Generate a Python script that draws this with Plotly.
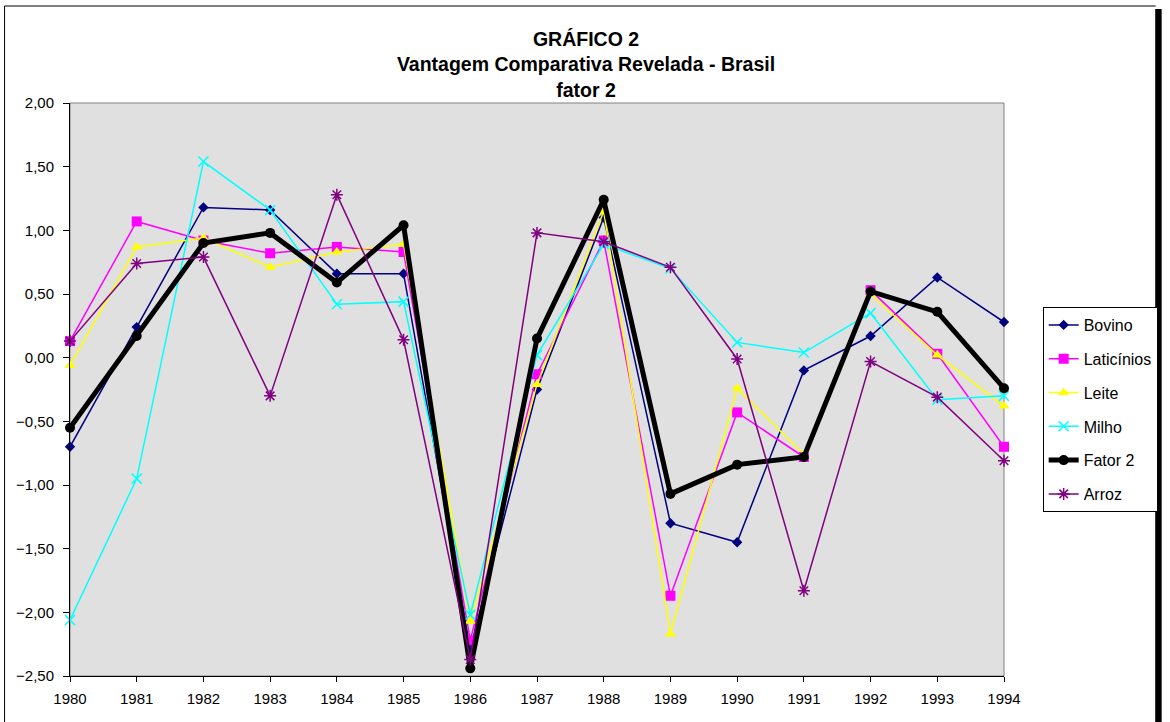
import plotly.graph_objects as go

years = list(range(1980, 1995))
bovino = [-0.70, 0.24, 1.18, 1.16, 0.66, 0.66, -2.29, -0.25, 1.10, -1.30, -1.45, -0.10, 0.17, 0.63, 0.28]
laticinios = [0.13, 1.07, 0.92, 0.82, 0.87, 0.83, -2.22, -0.13, 0.92, -1.87, -0.43, -0.78, 0.53, 0.03, -0.70]
leite = [-0.06, 0.87, 0.94, 0.71, 0.83, 0.89, -2.07, -0.21, 1.15, -2.17, -0.24, -0.76, 0.50, 0.02, -0.38]
milho = [-2.06, -0.95, 1.54, 1.16, 0.42, 0.44, -2.02, 0.02, 0.89, 0.70, 0.12, 0.04, 0.35, -0.33, -0.30]
fator2 = [-0.55, 0.17, 0.90, 0.98, 0.59, 1.04, -2.44, 0.15, 1.24, -1.07, -0.84, -0.78, 0.52, 0.36, -0.24]
arroz = [0.13, 0.74, 0.79, -0.30, 1.28, 0.14, -2.37, 0.98, 0.91, 0.71, -0.01, -1.83, -0.03, -0.31, -0.81]

series = [
    ("Bovino", bovino, "#000080", 1.5, "diamond", 8, None),
    ("Laticínios", laticinios, "#FF00FF", 1.5, "square", 10, None),
    ("Leite", leite, "#FFFF00", 1.5, "triangle-up", 10, None),
    ("Milho", milho, "#00FFFF", 1.5, "x-thin-open", 10, 1.5),
    ("Fator 2", fator2, "#000000", 5, "circle", 10, None),
    ("Arroz", arroz, "#800080", 1.5, "asterisk-open", 10, 1.5),
]

FONT = "Liberation Sans, Arial, sans-serif"

fig = go.Figure()
for name, vals, color, lw, sym, ms, mlw in series:
    marker = dict(symbol=sym, size=ms, color=color)
    if mlw:
        marker["line"] = dict(color=color, width=mlw)
    fig.add_trace(go.Scatter(
        x=years, y=vals, name=name, mode="lines+markers",
        line=dict(color=color, width=lw), marker=marker,
        cliponaxis=False, legendgroup=name,
    ))

W, H = 1170, 722
L, R, T, B = 70, 1012, 103, 676
pw, ph = R - L, B - T

def px(x):
    return (x - L) / pw

def py(y):
    return (B - y) / ph

shapes = [
    dict(type="rect", xref="paper", yref="paper", x0=0, y0=0, x1=1, y1=1,
         line=dict(color="#808080", width=1), layer="below"),
    dict(type="line", xref="paper", yref="paper", x0=px(4), x1=px(1165), y0=py(6), y1=py(6),
         line=dict(color="black", width=1)),
    dict(type="line", xref="paper", yref="paper", x0=px(4), x1=px(4), y0=py(6), y1=py(725),
         line=dict(color="black", width=1)),
    dict(type="rect", xref="paper", yref="paper", x0=px(1164.5), x1=px(1171), y0=py(9), y1=py(725),
         line=dict(width=0), fillcolor="black"),
]

fig.update_layout(
    width=W, height=H,
    margin=dict(l=L, r=W - R, t=T, b=H - B),
    paper_bgcolor="white", plot_bgcolor="#E0E0E0",
    separators=",.",
    font=dict(family=FONT, size=15, color="black"),
    title=dict(
        text="GRÁFICO 2<br>Vantagem Comparativa Revelada - Brasil<br>fator 2",
        x=586 / W, xanchor="center", y=1 - 46 / H, yanchor="top",
        font=dict(family=FONT, size=19.5, color="black", weight="bold"),
    ),
    xaxis=dict(
        range=[1980, 1994], tickmode="array", tickvals=years,
        ticktext=[str(y) for y in years],
        showgrid=False, zeroline=False, showline=True, linecolor="black", linewidth=1,
        ticks="outside", ticklen=5, tickcolor="black", ticklabelstandoff=4,
        tickfont=dict(family=FONT, size=15),
    ),
    yaxis=dict(
        range=[-2.5, 2.0], dtick=0.5, tick0=-2.5, tickformat=".2f",
        showgrid=False, zeroline=False, showline=True, linecolor="black", linewidth=1,
        ticks="outside", ticklen=6, tickcolor="black", ticklabelstandoff=6,
        tickfont=dict(family=FONT, size=15),
    ),
    legend=dict(
        x=px(1051), y=py(307), xanchor="left", yanchor="top",
        bordercolor="black", borderwidth=1, bgcolor="white",
        font=dict(family=FONT, size=16), tracegroupgap=10,
        itemwidth=30,
    ),
    shapes=shapes,
    showlegend=True,
)

fig.write_html(
    "out.html",
    config={"displayModeBar": False},
    post_script="document.body.style.margin='0';document.body.style.overflow='hidden';",
)
